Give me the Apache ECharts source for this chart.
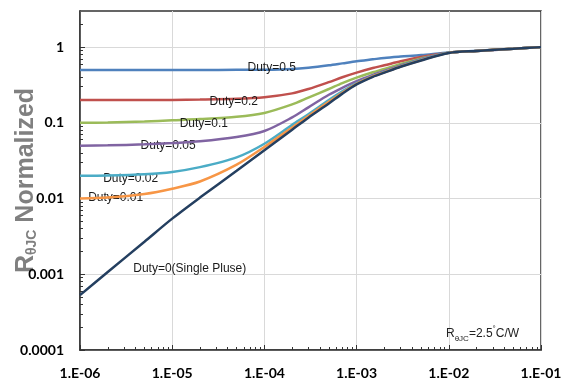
<!DOCTYPE html>
<html><head><meta charset="utf-8">
<script src="https://cdn.jsdelivr.net/npm/echarts@6/dist/echarts.min.js"></script>
<style>html,body{margin:0;padding:0;background:#fff}#c{width:569px;height:383px}</style>
</head><body><div id="c"></div><script>
// ---- data ----
const times   = [1e-6,2e-6,5e-6,1e-5,2e-5,5e-5,1e-4,2e-4,3e-4,5e-4,7e-4,1e-3,1.5e-3,2e-3,3e-3,5e-3,1e-2,2e-2,5e-2,1e-1];
const duty050 = [0.5,0.5,0.5,0.5,0.5,0.501,0.503,0.515,0.535,0.575,0.61,0.65,0.69,0.72,0.75,0.785,0.85,0.893,0.952,1.0];
const duty020 = [0.2,0.2,0.2,0.201,0.203,0.208,0.218,0.245,0.28,0.345,0.40,0.46,0.53,0.575,0.65,0.74,0.846,0.892,0.951,1.0];
const duty010 = [0.1,0.101,0.104,0.108,0.112,0.12,0.135,0.175,0.215,0.28,0.335,0.395,0.465,0.515,0.60,0.71,0.844,0.891,0.951,1.0];
const duty005 = [0.05,0.0505,0.052,0.054,0.057,0.065,0.078,0.118,0.16,0.235,0.29,0.355,0.43,0.485,0.575,0.695,0.842,0.89,0.95,1.0];
const duty002 = [0.02,0.0202,0.021,0.0225,0.026,0.035,0.053,0.094,0.13,0.2,0.26,0.335,0.415,0.47,0.56,0.68,0.841,0.89,0.95,1.0];
const duty001 = [0.01,0.0103,0.0115,0.0135,0.0168,0.028,0.048,0.087,0.123,0.19,0.25,0.327,0.41,0.465,0.555,0.672,0.84,0.89,0.95,1.0];
const single  = [5.3e-4,1.07e-3,2.69e-3,5.43e-3,0.0103,0.0233,0.0435,0.0813,0.117,0.18,0.243,0.322,0.405,0.46,0.55,0.667,0.838,0.89,0.95,1.0];
const seriesNames = ['Duty=0.5','Duty=0.2','Duty=0.1','Duty=0.05','Duty=0.02','Duty=0.01','Duty=0(Single Pluse)'];
const xTickValues = [1e-6,1e-5,1e-4,1e-3,1e-2,1e-1];
const xTickLabels = ['1.E-06','1.E-05','1.E-04','1.E-03','1.E-02','1.E-01'];
const yTickValues = [1e-4,1e-3,1e-2,1e-1,1];
const yTickLabels = ['0.0001','0.001','0.01','0.1','1'];
// label anchor points (data coords) for curve annotations
const labelAnchors = [[6.48e-5,0.535],[2.51e-5,0.192],[1.19e-5,0.0976],[4.48e-6,0.0494],[1.76e-6,0.01835],[1.21e-6,0.0102],[3.73e-6,0.00119]];

// ---- build ----
const colors = ['#4F81BD','#C0504D','#9BBB59','#8064A2','#4BACC6','#F79646','#243F60'];
const allData = [duty050,duty020,duty010,duty005,duty002,duty001,single];
function minorTicks(lo, hi){const r=[];for(let e=lo;e<hi;e++){for(let k=2;k<=9;k++)r.push(+(k+'e'+e));}return r;}
const xMinor = minorTicks(-6,-1);
const yMinor = minorTicks(-4,0).concat([2]);
const series = allData.map((d,i)=>({
  name: seriesNames[i], type:'line', xAxisIndex:0, yAxisIndex:0,
  data: times.map((t,j)=>[t,d[j]]), showSymbol:false, smooth:0.3,
  lineStyle:{color:colors[i], width:2.5}, itemStyle:{color:colors[i]}, z: 2+i,
  markPoint:{symbol:'circle', symbolSize:1, itemStyle:{color:'rgba(0,0,0,0)'}, silent:true,
    label:{show:true, position:'right', distance:0, formatter: seriesNames[i], color:'#1a1a1a',
      fontFamily:'Liberation Sans', fontSize:12},
    data:[{coord: labelAnchors[i]}]}
}));
const axisFont = {fontFamily:'Lato', fontWeight:'bold', color:'#000'};
const titleFont = {fontFamily:'Liberation Sans', fontWeight:'bold', color:'#808080', verticalAlign:'bottom'};
const chart = echarts.init(document.getElementById('c'), null, {renderer:'canvas'});
chart.setOption({
  animation:false,
  backgroundColor:'#fff',
  grid:{left:80, top:11, right:28, bottom:33, outerBoundsMode:'none', containLabel:false,
        show:true, borderColor:'#333', borderWidth:1.5, backgroundColor:'#fff'},
  xAxis:[
    {type:'log', logBase:10, min:1e-6, max:1e-1, position:'bottom',
     axisLine:{show:true, lineStyle:{color:'#333', width:1.5}},
     axisTick:{show:true, inside:true, length:5, customValues:xTickValues, lineStyle:{color:'#333'}},
     axisLabel:Object.assign({margin:16, fontSize:14, customValues:xTickValues,
        formatter:v=>xTickLabels[Math.round(Math.log10(v))+6]}, axisFont),
     splitLine:{show:true, lineStyle:{color:'#d9d9d9', width:1}}},
    {type:'log', logBase:10, min:1e-6, max:1e-1, position:'bottom',
     axisLine:{show:false}, axisTick:{show:true, inside:true, length:3, customValues:xMinor, lineStyle:{color:'#333'}},
     axisLabel:{show:false}, splitLine:{show:false}}
  ],
  yAxis:[
    {type:'log', logBase:10, min:1e-4, max:3, position:'left',
     axisLine:{show:true, lineStyle:{color:'#333', width:1.5}},
     axisTick:{show:true, inside:true, length:5, customValues:yTickValues, lineStyle:{color:'#333'}},
     axisLabel:Object.assign({margin:16, fontSize:14, customValues:yTickValues,
        formatter:v=>yTickLabels[Math.round(Math.log10(v))+4]}, axisFont),
     splitLine:{show:true, lineStyle:{color:'#d9d9d9', width:1}},
     name:'{r|R}{s|θJC}{n| Normalized}', nameLocation:'middle', nameGap:41, nameRotate:90, nameMoveOverlap:false,
     nameTextStyle:{color:'#808080', rich:{
       r:Object.assign({fontSize:25}, titleFont),
       s:Object.assign({fontSize:14}, titleFont),
       n:Object.assign({fontSize:25}, titleFont)
     }}},
    {type:'log', logBase:10, min:1e-4, max:3, position:'left',
     axisLine:{show:false}, axisTick:{show:true, inside:true, length:3, customValues:yMinor, lineStyle:{color:'#333'}},
     axisLabel:{show:false}, splitLine:{show:false}}
  ],
  graphic:[{type:'text', left:446, top:325, z:100,
    style:{text:'{r|R}{s|θJC}{t|=2.5}{u|°}{t|C/W}', rich:{
      r:{fontFamily:'Liberation Sans', fontSize:12, fill:'#222', verticalAlign:'bottom', padding:[0,0,3,0]},
      s:{fontFamily:'Liberation Sans', fontSize:8, fill:'#222', verticalAlign:'bottom'},
      t:{fontFamily:'Liberation Sans', fontSize:12, fill:'#222', verticalAlign:'bottom', padding:[0,0,3,0]},
      u:{fontFamily:'Liberation Sans', fontSize:8, fill:'#222', verticalAlign:'bottom', padding:[0,0,10,0]}
    }}}],
  series: series
});
</script></body></html>
